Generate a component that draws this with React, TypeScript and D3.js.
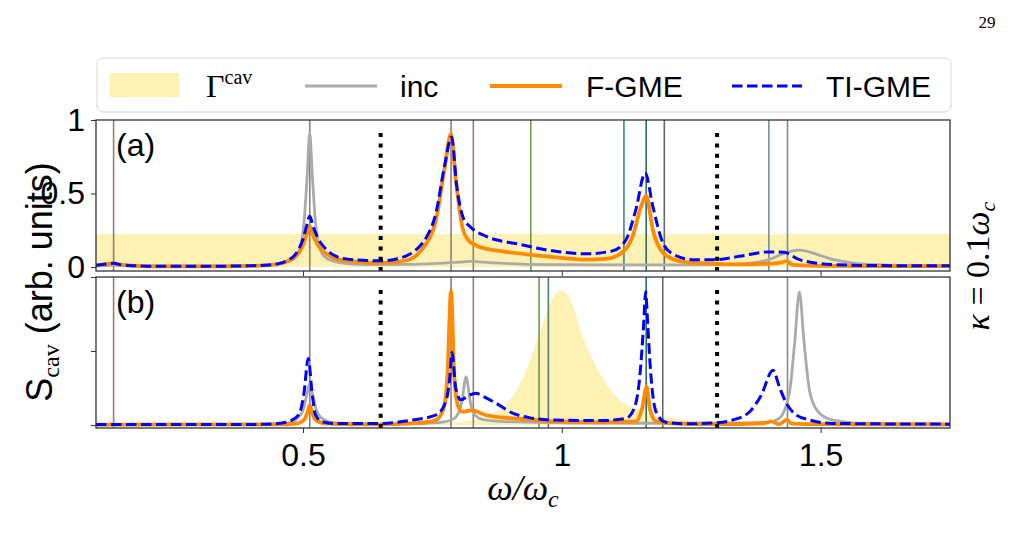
import React, { useRef, useEffect } from 'react';
import * as d3 from 'd3';

type Pt = [number, number];

// panel (a): omega/omega_c vs S_cav
const gammaCavA: Pt[] = [[0.1, 0.225], [1.75, 0.225]];

const incA: Pt[] = [
  [0.1, 0.008], [0.13, 0.012], [0.2, 0.006], [0.3, 0.006], [0.4, 0.01], [0.45, 0.02],
  [0.48, 0.05], [0.495, 0.14], [0.503, 0.35], [0.508, 0.62], [0.513, 0.91], [0.518, 0.62],
  [0.523, 0.35], [0.531, 0.14], [0.545, 0.06], [0.57, 0.03], [0.62, 0.017], [0.7, 0.018],
  [0.76, 0.025], [0.8, 0.033], [0.825, 0.038], [0.86, 0.03], [0.92, 0.02], [1.0, 0.016],
  [1.1, 0.014], [1.2, 0.014], [1.3, 0.016], [1.36, 0.025], [1.4, 0.05], [1.43, 0.095],
  [1.46, 0.115], [1.49, 0.09], [1.52, 0.055], [1.56, 0.028], [1.62, 0.014], [1.75, 0.008],
];

const fgmeA: Pt[] = [
  [0.1, 0.01], [0.12, 0.02], [0.134, 0.025], [0.15, 0.015], [0.2, 0.005], [0.3, 0.004],
  [0.4, 0.008], [0.44, 0.014], [0.47, 0.04], [0.49, 0.09], [0.5, 0.15], [0.507, 0.22],
  [0.513, 0.277], [0.52, 0.21], [0.527, 0.16], [0.535, 0.12], [0.545, 0.09], [0.56, 0.06],
  [0.58, 0.045], [0.62, 0.032], [0.65, 0.028], [0.68, 0.035], [0.705, 0.05], [0.725, 0.1],
  [0.738, 0.16], [0.757, 0.32], [0.773, 0.66], [0.786, 0.905], [0.795, 0.6], [0.808, 0.27],
  [0.82, 0.18], [0.835, 0.145], [0.86, 0.12], [0.885, 0.107], [0.937, 0.085], [0.995, 0.064],
  [1.047, 0.05], [1.085, 0.055], [1.111, 0.085], [1.137, 0.21], [1.153, 0.41], [1.163, 0.485],
  [1.176, 0.25], [1.195, 0.1], [1.227, 0.04], [1.26, 0.028], [1.33, 0.018], [1.395, 0.022],
  [1.425, 0.032], [1.434, 0.04], [1.446, 0.015], [1.5, 0.008], [1.75, 0.006],
];

const tigmeA: Pt[] = [
  [0.1, 0.012], [0.12, 0.02], [0.134, 0.025], [0.15, 0.015], [0.2, 0.006], [0.3, 0.005],
  [0.4, 0.009], [0.44, 0.016], [0.47, 0.045], [0.49, 0.11], [0.5, 0.19], [0.507, 0.28],
  [0.513, 0.345], [0.52, 0.27], [0.527, 0.21], [0.535, 0.16], [0.545, 0.12], [0.56, 0.08],
  [0.575, 0.06], [0.62, 0.045], [0.65, 0.042], [0.68, 0.055], [0.705, 0.085], [0.725, 0.14],
  [0.738, 0.2], [0.757, 0.37], [0.773, 0.68], [0.787, 0.885], [0.797, 0.55], [0.81, 0.33],
  [0.821, 0.28], [0.853, 0.21], [0.918, 0.155], [0.982, 0.11], [1.047, 0.09], [1.098, 0.11],
  [1.124, 0.186], [1.143, 0.39], [1.161, 0.64], [1.176, 0.41], [1.195, 0.166], [1.214, 0.09],
  [1.253, 0.05], [1.298, 0.05], [1.343, 0.073], [1.4, 0.103], [1.43, 0.1], [1.459, 0.05],
  [1.524, 0.017], [1.6, 0.01], [1.75, 0.008],
];

// panel (b)
const gammaCavB: Pt[] = [
  [0.75, 0.005], [0.8, 0.02], [0.83, 0.035], [0.86, 0.06], [0.88, 0.11], [0.91, 0.22],
  [0.94, 0.45], [0.96, 0.65], [0.98, 0.84], [1.0, 0.91], [1.02, 0.82], [1.04, 0.6],
  [1.06, 0.44], [1.08, 0.31], [1.1, 0.21], [1.15, 0.1], [1.2, 0.052], [1.25, 0.03],
  [1.3, 0.015], [1.35, 0.005],
];

const incB: Pt[] = [
  [0.1, 0.002], [0.4, 0.003], [0.47, 0.015], [0.49, 0.05], [0.5, 0.1], [0.507, 0.2],
  [0.513, 0.28], [0.519, 0.2], [0.526, 0.1], [0.535, 0.05], [0.56, 0.015], [0.65, 0.006],
  [0.72, 0.01], [0.77, 0.02], [0.79, 0.04], [0.8, 0.08], [0.807, 0.16], [0.815, 0.326],
  [0.823, 0.16], [0.83, 0.08], [0.845, 0.04], [0.88, 0.025], [0.95, 0.018], [1.05, 0.013],
  [1.2, 0.012], [1.35, 0.014], [1.4, 0.02], [1.42, 0.045], [1.44, 0.225], [1.45, 0.56],
  [1.459, 0.9], [1.468, 0.56], [1.479, 0.225], [1.498, 0.08], [1.524, 0.034], [1.588, 0.011],
  [1.75, 0.004],
];

const fgmeB: Pt[] = [
  [0.1, 0.003], [0.45, 0.004], [0.49, 0.012], [0.503, 0.04], [0.509, 0.09], [0.513, 0.135],
  [0.517, 0.09], [0.523, 0.04], [0.54, 0.012], [0.6, 0.005], [0.65, 0.005], [0.7, 0.01],
  [0.74, 0.02], [0.757, 0.034], [0.772, 0.115], [0.779, 0.34], [0.786, 0.905], [0.792, 0.34],
  [0.799, 0.135], [0.808, 0.09], [0.818, 0.095], [0.827, 0.1], [0.84, 0.085], [0.853, 0.068],
  [0.905, 0.045], [0.937, 0.038], [0.982, 0.025], [1.08, 0.02], [1.143, 0.025], [1.155, 0.11],
  [1.164, 0.26], [1.17, 0.11], [1.182, 0.025], [1.22, 0.01], [1.3, 0.006], [1.39, 0.012],
  [1.405, 0.025], [1.42, 0.006], [1.434, 0.034], [1.445, 0.01], [1.5, 0.006], [1.75, 0.005],
];

const tigmeB: Pt[] = [
  [0.1, 0.003], [0.4, 0.004], [0.45, 0.01], [0.473, 0.025], [0.492, 0.07], [0.502, 0.22],
  [0.51, 0.45], [0.518, 0.2], [0.524, 0.07], [0.537, 0.022], [0.56, 0.01], [0.65, 0.011],
  [0.711, 0.034], [0.757, 0.068], [0.776, 0.16], [0.783, 0.3], [0.788, 0.49], [0.795, 0.25],
  [0.805, 0.17], [0.82, 0.2], [0.834, 0.214], [0.85, 0.19], [0.873, 0.147], [0.905, 0.08],
  [0.937, 0.05], [0.982, 0.034], [1.078, 0.03], [1.124, 0.045], [1.14, 0.115], [1.151, 0.34],
  [1.158, 0.675], [1.162, 0.9], [1.166, 0.675], [1.172, 0.34], [1.182, 0.09], [1.2, 0.02],
  [1.24, 0.008], [1.298, 0.015], [1.33, 0.034], [1.363, 0.09], [1.385, 0.2], [1.408, 0.37],
  [1.421, 0.25], [1.434, 0.147], [1.453, 0.068], [1.479, 0.034], [1.524, 0.011], [1.75, 0.006],
];

// mode frequencies (thin vertical lines) and the two dotted markers
const modesA = [0.134, 0.513, 0.786, 0.829, 0.94, 1.12, 1.163, 1.198, 1.4, 1.436];
const modesB = [0.134, 0.513, 0.786, 0.829, 0.956, 0.974, 1.163, 1.195, 1.436];
const dottedW = [0.65, 1.3];

const xTicks = [0.5, 1, 1.5];
const yTicks = [0, 0.5, 1];
const panelTags = ['(a)', '(b)'];
const legendLabels = ['inc', 'F-GME', 'TI-GME'];

// colours of mode lines (styling, by index)
const modeColorsA = ['#967c76', '#967c76', '#967c76', '#967c76', '#6f9a48', '#35898a', '#2c6e5e', '#5e6a70', '#7b8e98', '#7b8e98'];
const modeColorsB = ['#967c76', '#967c76', '#967c76', '#967c76', '#6f9a48', '#527e73', '#2c6e5e', '#5e6a70', '#7b8e98'];

const YELLOW = '#fdf1b4';
const GRAY = '#aaaaaa';
const ORANGE = '#ff8c00';
const BLUE = '#0000ff';
const SANS = '"Liberation Sans", Arial, sans-serif';
const SERIF = '"Liberation Serif", "DejaVu Serif", serif';

const App = () => {
  const svgRef = useRef<SVGSVGElement>(null);

  useEffect(() => {
    const svg = d3.select(svgRef.current);
    svg.selectAll('*').remove();

    const left = 96;
    const right = 950;
    const x = d3.scaleLinear().domain([0.1, 1.75]).range([left, right]);

    const panels = [
      { top: 120, bottom: 271, yDom: [-0.027, 1.0], band: gammaCavA, inc: incA, f: fgmeA, ti: tigmeA, modes: modesA, colors: modeColorsA, labels: true },
      { top: 277, bottom: 428, yDom: [-0.02, 1.0], band: gammaCavB, inc: incB, f: fgmeB, ti: tigmeB, modes: modesB, colors: modeColorsB, labels: false },
    ];

    panels.forEach((p, i) => {
      const y = d3.scaleLinear().domain(p.yDom).range([p.bottom, p.top]);
      const clipId = `clip-${i}`;
      svg.append('clipPath').attr('id', clipId)
        .append('rect').attr('x', left).attr('y', p.top).attr('width', right - left).attr('height', p.bottom - p.top);

      const g = svg.append('g').attr('clip-path', `url(#${clipId})`);

      // Gamma^cav shading
      const area = d3.area<Pt>().x((d) => x(d[0])).y0(y(0)).y1((d) => y(d[1])).curve(d3.curveMonotoneX);
      g.append('path').datum(p.band).attr('d', area).attr('fill', YELLOW);

      // mode lines
      p.modes.forEach((m, k) => {
        g.append('line').attr('x1', x(m)).attr('x2', x(m)).attr('y1', p.top).attr('y2', p.bottom)
          .attr('stroke', p.colors[k]).attr('stroke-width', 1.6);
      });

      const line = d3.line<Pt>().x((d) => x(d[0])).y((d) => y(d[1])).curve(d3.curveMonotoneX);
      g.append('path').datum(p.inc).attr('d', line).attr('fill', 'none').attr('stroke', GRAY).attr('stroke-width', 2.8);
      g.append('path').datum(p.f).attr('d', line).attr('fill', 'none').attr('stroke', ORANGE).attr('stroke-width', 3.8);
      g.append('path').datum(p.ti).attr('d', line).attr('fill', 'none').attr('stroke', BLUE)
        .attr('stroke-width', 3).attr('stroke-dasharray', '10.5,4.5');

      // dotted markers
      dottedW.forEach((w) => {
        svg.append('line').attr('x1', x(w)).attr('x2', x(w)).attr('y1', p.bottom).attr('y2', y(0.95))
          .attr('stroke', '#000').attr('stroke-width', 4).attr('stroke-dasharray', '4,6.3');
      });

      // frame
      svg.append('rect').attr('x', left).attr('y', p.top).attr('width', right - left).attr('height', p.bottom - p.top)
        .attr('fill', 'none').attr('stroke', '#333').attr('stroke-width', 1.3);

      // y ticks
      const yAxis = svg.append('g').attr('transform', `translate(${left},0)`)
        .call(d3.axisLeft(y).tickValues(yTicks).tickSize(5).tickPadding(6).tickFormat((d) => (p.labels ? `${d}` : '')));
      yAxis.select('.domain').remove();
      yAxis.selectAll('line').attr('stroke', '#333');
      yAxis.selectAll('text').style('font-family', SANS).style('font-size', '32px').attr('fill', '#000');

      // x ticks
      const xAxis = svg.append('g').attr('transform', `translate(0,${p.bottom})`)
        .call(d3.axisBottom(x).tickValues(xTicks).tickSize(5).tickPadding(10).tickFormat((d) => (p.labels ? '' : `${d}`)));
      xAxis.select('.domain').remove();
      xAxis.selectAll('line').attr('stroke', '#333');
      xAxis.selectAll('text').style('font-family', SANS).style('font-size', '32px').attr('fill', '#000');

      svg.append('text').attr('x', 116).attr('y', p.top + 36).text(panelTags[i])
        .style('font-family', SANS).style('font-size', '32px');
    });

    // legend
    const lg = svg.append('g');
    lg.append('rect').attr('x', 97).attr('y', 58).attr('width', 854).attr('height', 54).attr('rx', 6)
      .attr('fill', '#fff').attr('stroke', '#d6d6d6').attr('stroke-width', 1);
    lg.append('rect').attr('x', 110).attr('y', 73).attr('width', 69).attr('height', 24).attr('fill', YELLOW);
    const gt = lg.append('text').attr('x', 206).attr('y', 97).style('font-family', SERIF).style('font-size', '32px');
    gt.append('tspan').text('Γ');
    gt.append('tspan').attr('dy', -13).style('font-size', '20px').text('cav');

    const legendLines = [
      { x1: 305, x2: 377, color: GRAY, w: 2.8, dash: null, tx: 400 },
      { x1: 490, x2: 562, color: ORANGE, w: 3.8, dash: null, tx: 586 },
      { x1: 732, x2: 802, color: BLUE, w: 3, dash: '10.5,4.5', tx: 826 },
    ];
    legendLines.forEach((l, k) => {
      lg.append('line').attr('x1', l.x1).attr('x2', l.x2).attr('y1', 86).attr('y2', 86)
        .attr('stroke', l.color).attr('stroke-width', l.w).attr('stroke-dasharray', l.dash);
      lg.append('text').attr('x', l.tx).attr('y', 97).text(legendLabels[k])
        .style('font-family', SANS).style('font-size', '30px');
    });

    // axis labels
    const xl = svg.append('text').attr('x', 523).attr('y', 500).attr('text-anchor', 'middle')
      .style('font-family', SERIF).style('font-size', '36px').style('font-style', 'italic');
    xl.append('tspan').text('ω/ω');
    xl.append('tspan').attr('dy', 7).style('font-size', '24px').text('c');

    const yl = svg.append('text').attr('transform', 'translate(52,282) rotate(-90)').attr('text-anchor', 'middle')
      .style('font-family', SANS).style('font-size', '36px');
    yl.append('tspan').text('S');
    yl.append('tspan').attr('dy', 7).style('font-family', SERIF).style('font-size', '24px').text('cav');
    yl.append('tspan').attr('dy', -7).text(' (arb. units)');

    const kl = svg.append('text').attr('transform', 'translate(989,266) rotate(-90)').attr('text-anchor', 'middle')
      .style('font-family', SERIF).style('font-size', '34px');
    kl.append('tspan').style('font-style', 'italic').text('κ');
    kl.append('tspan').text(' = 0.1');
    kl.append('tspan').style('font-style', 'italic').text('ω');
    kl.append('tspan').attr('dy', 6).style('font-style', 'italic').style('font-size', '22px').text('c');

    svg.append('text').attr('x', 987).attr('y', 28).attr('text-anchor', 'middle').text('29')
      .style('font-family', SERIF).style('font-size', '17px');
  }, []);

  return <svg ref={svgRef} width={1012} height={538} style={{ position: 'absolute', left: 0, top: 0, background: '#fff' }} />;
};

export default App;
